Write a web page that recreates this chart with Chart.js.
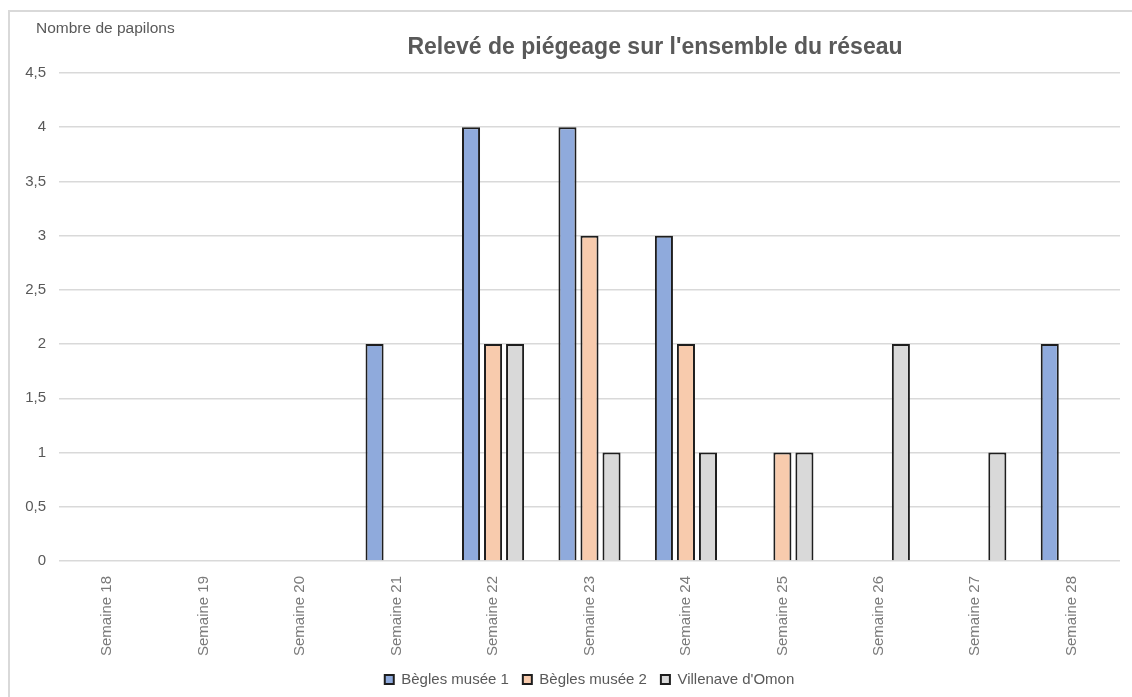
<!DOCTYPE html>
<html>
<head>
<meta charset="utf-8">
<script src="https://cdn.jsdelivr.net/npm/chart.js@4"></script>
<style>
  html, body { margin: 0; padding: 0; background: #fff; }
  #wrap { width: 1132px; height: 697px; }
</style>
</head>
<body>
<div id="wrap"><canvas id="myChart" width="1132" height="697"></canvas></div>
<script>
const weeks = ["Semaine 18", "Semaine 19", "Semaine 20", "Semaine 21", "Semaine 22", "Semaine 23",
  "Semaine 24", "Semaine 25", "Semaine 26", "Semaine 27", "Semaine 28"];
const begles1 = [0, 0, 0, 2, 4, 4, 3, 0, 0, 0, 2];
const begles2 = [0, 0, 0, 0, 2, 3, 2, 1, 0, 0, 0];
const villenave = [0, 0, 0, 0, 2, 1, 1, 1, 2, 1, 0];
const seriesNames = ["Bègles musée 1", "Bègles musée 2", "Villenave d'Omon"];

const FONT = "'Liberation Sans', Arial, sans-serif";

// frame + titles drawn by hand, like the excel export
const decor = {
  id: "decor",
  beforeDraw(chart) {
    const c = chart.ctx;
    c.save();
    c.fillStyle = "#fff";
    c.fillRect(0, 0, chart.width, chart.height);
    c.strokeStyle = "#d9d9d9";
    c.lineWidth = 2;
    c.beginPath();
    c.moveTo(9, chart.height);
    c.lineTo(9, 11);
    c.lineTo(chart.width, 11);
    c.stroke();
    c.restore();
  },
  afterDraw(chart) {
    const c = chart.ctx;
    c.save();
    c.fillStyle = "#595959";
    c.textBaseline = "middle";
    c.font = "bold 23px " + FONT;
    c.textAlign = "center";
    c.fillText("Relevé de piégeage sur l'ensemble du réseau", 655, 48);
    c.font = "15.5px " + FONT;
    c.textAlign = "left";
    c.fillText("Nombre de papilons", 36, 29);
    c.restore();
  }
};

const ctx = document.getElementById("myChart");
new Chart(ctx, {
  type: "bar",
  data: {
    labels: weeks,
    datasets: [
      { label: seriesNames[0], data: begles1, backgroundColor: "#8faadc", borderColor: "#1e1e1e", borderWidth: 2 },
      { label: seriesNames[1], data: begles2, backgroundColor: "#f8cbad", borderColor: "#1e1e1e", borderWidth: 2 },
      { label: seriesNames[2], data: villenave, backgroundColor: "#d9d9d9", borderColor: "#1e1e1e", borderWidth: 2 },
    ],
  },
  options: {
    responsive: false,
    animation: false,
    devicePixelRatio: 1,
    layout: { padding: { top: 73, left: 0, right: 12, bottom: 0 } },
    datasets: { bar: { barPercentage: 0.82, categoryPercentage: 0.685 } },
    plugins: {
      title: { display: false },
      tooltip: { enabled: false },
      legend: {
        position: "bottom",
        fullSize: false,
        labels: {
          font: { family: FONT, size: 15 },
          color: "#595959",
          boxWidth: 9,
          boxHeight: 9,
          padding: 14,
        },
      },
    },
    scales: {
      x: {
        grid: { display: false },
        border: { display: false },
        ticks: {
          minRotation: 90,
          maxRotation: 90,
          padding: 7,
          color: "#7a7a7a",
          font: { family: FONT, size: 15 },
        },
        afterFit(scale) { scale.height = 97; },
      },
      y: {
        min: 0,
        max: 4.5,
        grid: { color: "#d9d9d9", lineWidth: 1.5, drawTicks: false },
        border: { display: false },
        ticks: {
          stepSize: 0.5,
          padding: 13,
          color: "#595959",
          font: { family: FONT, size: 15 },
          callback: (v) => String(v).replace(".", ","),
        },
        afterFit(scale) { scale.width = 59; },
      },
    },
  },
  plugins: [decor],
});
</script>
</body>
</html>
